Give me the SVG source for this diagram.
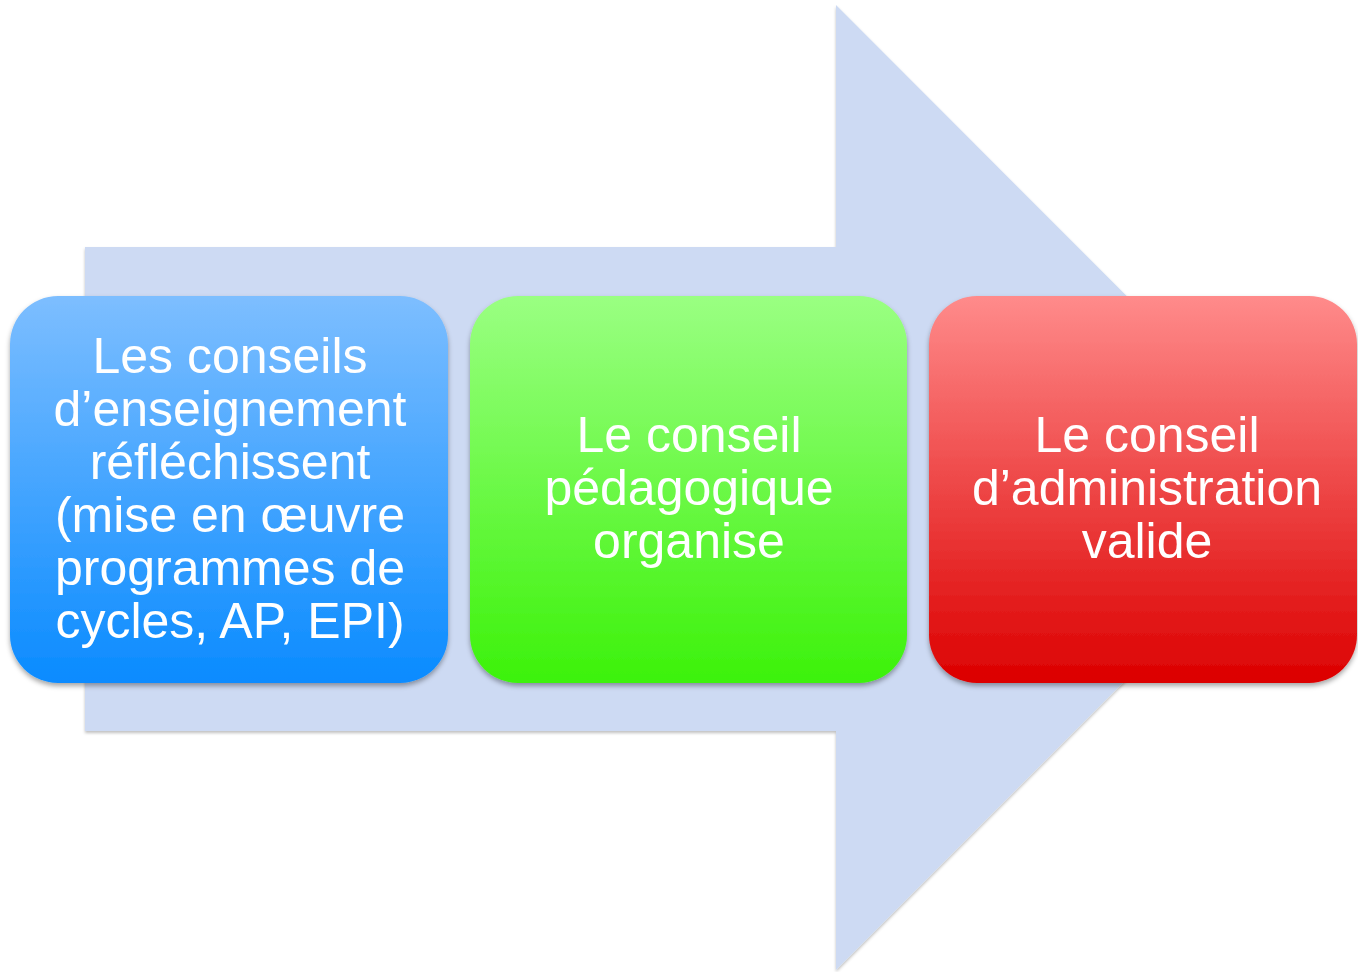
<svg xmlns="http://www.w3.org/2000/svg" width="1358" height="972" viewBox="0 0 1358 972">
  <defs>
    <linearGradient id="gBlue" x1="0" y1="0" x2="0" y2="1">
      <stop offset="0" stop-color="#7dbeff"/>
      <stop offset="1" stop-color="#0a8bff"/>
    </linearGradient>
    <linearGradient id="gGreen" x1="0" y1="0" x2="0" y2="1">
      <stop offset="0" stop-color="#9aff82"/>
      <stop offset="1" stop-color="#3cf20a"/>
    </linearGradient>
    <linearGradient id="gRed" x1="0" y1="0" x2="0" y2="1">
      <stop offset="0" stop-color="#ff8b8b"/>
      <stop offset="1" stop-color="#dc0000"/>
    </linearGradient>
    <filter id="shadow" x="-10%" y="-10%" width="120%" height="120%">
      <feDropShadow dx="0" dy="3" stdDeviation="2.5" flood-color="#000" flood-opacity="0.35"/>
    </filter>
    <filter id="ashadow" x="-5%" y="-5%" width="110%" height="110%">
      <feDropShadow dx="0" dy="2" stdDeviation="1.5" flood-color="#000" flood-opacity="0.25"/>
    </filter>
  </defs>
  <style>
    .lbl { font-family: "Liberation Sans", Arial, sans-serif; font-size: 50px; fill: #ffffff; text-anchor: middle; }
  </style>
  <rect width="1358" height="972" fill="#ffffff"/>
  <g id="connectors">
    <polygon id="arrow" points="85,247 836,247 836,5 1318,487.5 836,970 836,731 85,731" fill="#cddaf3" filter="url(#ashadow)"/>
  </g>
  <g id="node-enseignement">
    <rect x="10" y="296" width="438" height="387" rx="48" ry="48" fill="url(#gBlue)" filter="url(#shadow)"/>
    <text class="lbl"><tspan x="230" y="373">Les conseils</tspan><tspan x="230" y="426">d’enseignement</tspan><tspan x="230" y="479">réfléchissent</tspan><tspan x="230" y="532">(mise en œuvre</tspan><tspan x="230" y="585">programmes de</tspan><tspan x="230" y="638">cycles, AP, EPI)</tspan></text>
  </g>
  <g id="node-pedagogique">
    <rect x="470" y="296" width="437" height="387" rx="48" ry="48" fill="url(#gGreen)" filter="url(#shadow)"/>
    <text class="lbl"><tspan x="689" y="452">Le conseil</tspan><tspan x="689" y="505">pédagogique</tspan><tspan x="689" y="558">organise</tspan></text>
  </g>
  <g id="node-administration">
    <rect x="929" y="296" width="428" height="387" rx="48" ry="48" fill="url(#gRed)" filter="url(#shadow)"/>
    <text class="lbl"><tspan x="1147" y="452">Le conseil</tspan><tspan x="1147" y="505">d’administration</tspan><tspan x="1147" y="558">valide</tspan></text>
  </g>
</svg>
